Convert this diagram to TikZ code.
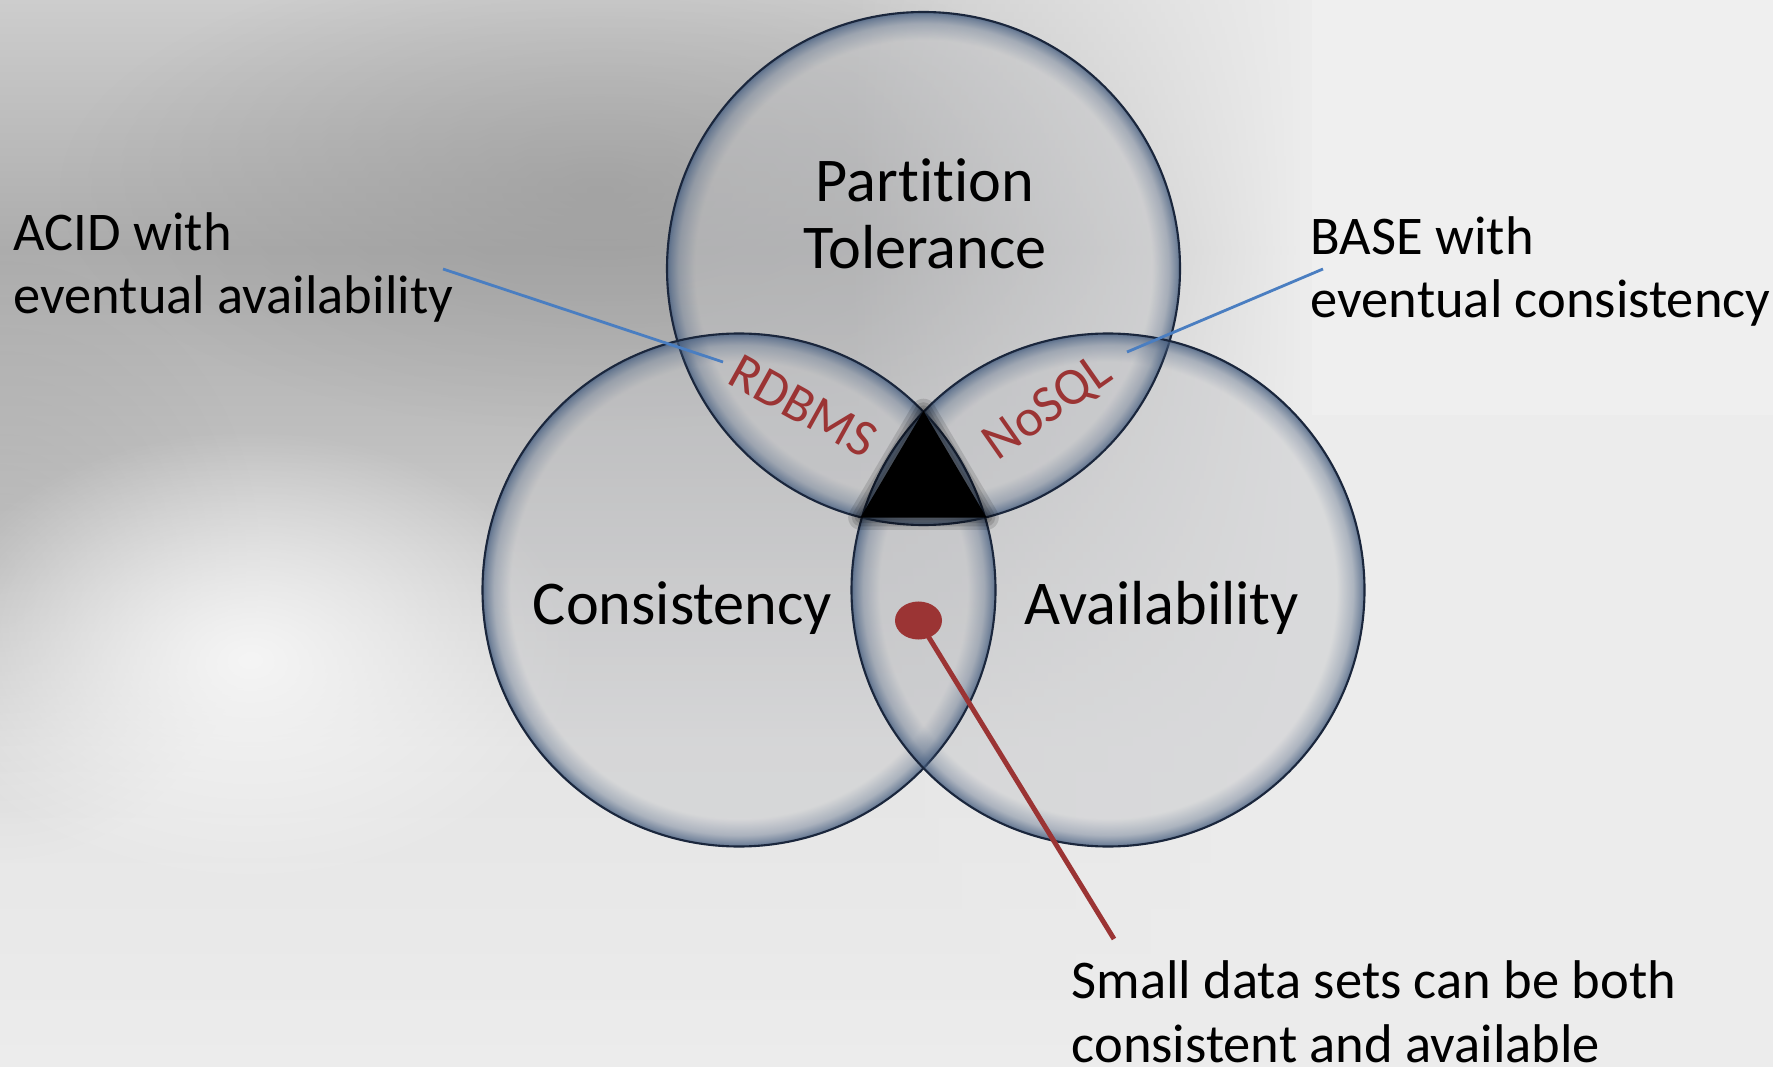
\documentclass[tikz,border=0pt]{standalone}
\usepackage{fontspec}
\setmainfont{Carlito}[Ligatures=NoCommon]
\usetikzlibrary{fadings,shapes.geometric}

\definecolor{bgtop}{RGB}{205,205,205}
\definecolor{bgband}{RGB}{172,172,172}
\definecolor{bgmid}{RGB}{192,192,192}
\definecolor{bglow}{RGB}{229,229,229}
\definecolor{bglight}{RGB}{236,236,236}
\definecolor{bgdark}{RGB}{150,150,150}
\definecolor{discfill}{RGB}{196,197,200}
\definecolor{rimblue}{RGB}{70,94,128}
\definecolor{rimdark}{RGB}{26,38,60}
\definecolor{capred}{RGB}{155,52,52}
\definecolor{leadblue}{RGB}{74,126,193}

\pgfdeclareverticalshading{bgshade}{100bp}{%
  color(0bp)=(bglight); color(25bp)=(bglight); color(39.9bp)=(bglow);
  color(53.9bp)=(bgmid); color(63.3bp)=(bgband); color(75bp)=(bgtop); color(100bp)=(bgtop)}
\tikzfading[name=softblob, inner color=transparent!0, outer color=transparent!100]
\tikzfading[name=fromleft, left color=transparent!100, right color=transparent!0]
\pgfdeclareradialshading{rimmask}{\pgfpointorigin}{%
  color(0bp)=(black); color(22.2bp)=(black); color(23.8bp)=(black!70);
  color(24.6bp)=(black!35); color(25bp)=(black!10); color(50bp)=(black!10)}
\pgfdeclarefading{rimfade}{\pgfuseshading{rimmask}}

\begin{document}
\begin{tikzpicture}[x=0.01cm, y=-0.01cm]
    \tikzset{
    disc/.style={fill=discfill, fill opacity=0.45},
    glow/.style={fill=rimblue, path fading=rimfade},
    rimline/.style={draw=rimdark, line width=0.6pt},
    title/.style={font=\fontsize{17.7}{19.1}\selectfont, inner sep=0pt, align=center},
    note/.style={font=\fontsize{15.5}{18.1}\selectfont, inner sep=0pt, align=left},
    tag/.style={font=\fontsize{15}{18}\selectfont, text=capred, inner sep=0pt},
    lead/.style={draw=leadblue, line width=0.8pt},
    pin/.style={draw=capred, line width=1.4pt},
    }
    \useasboundingbox (0,0) rectangle (1773,1067);
    % background
    \shade[shading=bgshade] (0,0) rectangle (1773,1067);
    \fill[bgdark, opacity=0.55, path fading=softblob] (600,190) ellipse (540 and 240);
    \fill[bgdark, opacity=0.3, path fading=softblob] (0,560) ellipse (260 and 300);
    \fill[bglight, path fading=fromleft] (850,0) rectangle (1301,1067);
    \fill[bglight] (1300,0) rectangle (1773,1067);
    \fill[white!96!black, path fading=softblob] (250,660) ellipse (330 and 230);
    \fill[white, opacity=0.2] (1312,0) rectangle (1773,415);

    \coordinate (ptop) at (923.5,268.5);
    \coordinate (pleft) at (739,590);
    \coordinate (pright) at (1108,590);

    % circles
    \foreach \c in {ptop,pleft,pright} {
        \fill[disc] (\c) circle (256.5);
    }
    \foreach \c in {ptop,pleft,pright} {
        \fill[glow] (\c) circle (256.5);
        \draw[rimline] (\c) circle (256.5);
    }

    % triangle with its shadow
    \foreach \w in {7,5,3.2,1.6} {
        \draw[black, opacity=0.13, line width=\w pt, line join=round]
            (923.5,411) -- (860.5,517.5) -- (986.5,517.5) -- cycle;
    }
    \fill[black] (923.5,411) -- (860.5,517.5) -- (986.5,517.5) -- cycle;

    % labels
    \node[title] (partition) at (925,214) {Partition\\Tolerance};
    \node[title, anchor=base] (consistency) at (682.5,624) {Consistency};
    \node[title, anchor=base] (availability) at (1161.5,624) {Availability};
    \node[tag, rotate=-29, anchor=base] (rdbms) at (795,421) {RDBMS};
    \node[tag, rotate=35, anchor=base] (nosql) at (1056,420) {NoSQL};
    \node[note, anchor=base west] (acid) at (13,314) {ACID with\\eventual availability};
    \node[note, anchor=base west] (base) at (1310,318) {BASE with\\eventual consistency};
    \node[note, anchor=base west] (small) at (1071,1062) {Small data sets can be both\\consistent and available};

    % leaders
    \coordinate (acidend) at (443,269);
    \coordinate (rdbmsend) at (723,362);
    \coordinate (baseend) at (1323,269);
    \coordinate (nosqlend) at (1127,352);
    \coordinate (smallend) at (1114,939);
    \draw[lead] (acidend) -- (rdbmsend);
    \draw[lead] (baseend) -- (nosqlend);
    \node[ellipse, fill=capred, minimum width=0.47cm, minimum height=0.38cm, inner sep=0pt] (dot) at (918.5,620.5) {};
    \draw[pin] (dot.center) -- (smallend);
\end{tikzpicture}
\end{document}
